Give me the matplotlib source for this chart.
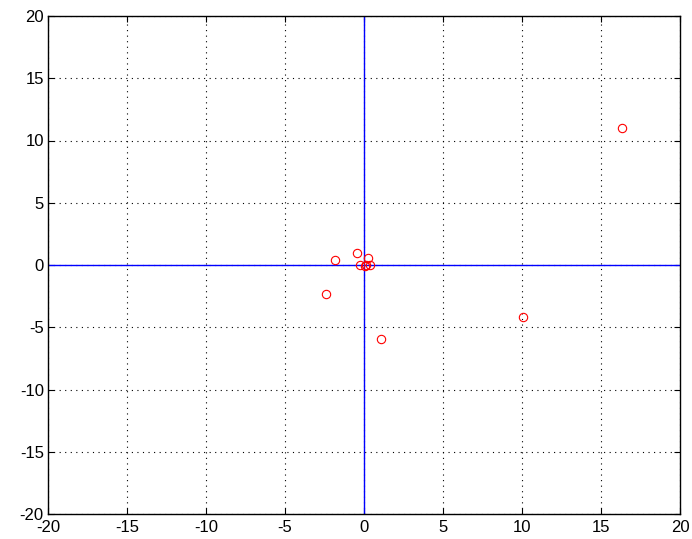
import matplotlib.pyplot as plt
import numpy as np

# points
x_pts = [16.33, 10.06, 1.08, -2.4, -1.84, -0.46, 0.27, -0.25, 0.06, 0.38, 0.15]
y_pts = [11.0, -4.18, -5.94, -2.35, 0.4, 0.99, 0.54, 0.0, -0.05, 0.0, -0.02]
ticks = [-20, -15, -10, -5, 0, 5, 10, 15, 20]

plt.rcParams['axes.unicode_minus'] = False
plt.rcParams['font.family'] = ['Liberation Sans', 'DejaVu Sans']

fig = plt.figure(figsize=(6.92, 5.39), dpi=100)
ax = fig.add_axes([48/692, 1 - 514/539, 632/692, 498/539])

ax.axhline(0, color='blue', lw=1, zorder=2)
ax.axvline(0, color='blue', lw=1, zorder=2)
ax.plot(x_pts, y_pts, 'o', mfc='none', mec='red', ms=6, mew=0.8, zorder=3)

ax.set_xlim(-20, 20)
ax.set_ylim(-20, 20)
ax.set_xticks(ticks)
ax.set_yticks(ticks)
ax.grid(True, color='black', ls=(0, (1, 4)), lw=0.8)
ax.tick_params(direction='in', length=4, labelsize=12, top=True, right=True)
ax.tick_params(axis='x', pad=4)
ax.tick_params(axis='y', pad=3)
for s in ax.spines.values():
    s.set_linewidth(1)

fig.savefig('out.png', dpi=100)
